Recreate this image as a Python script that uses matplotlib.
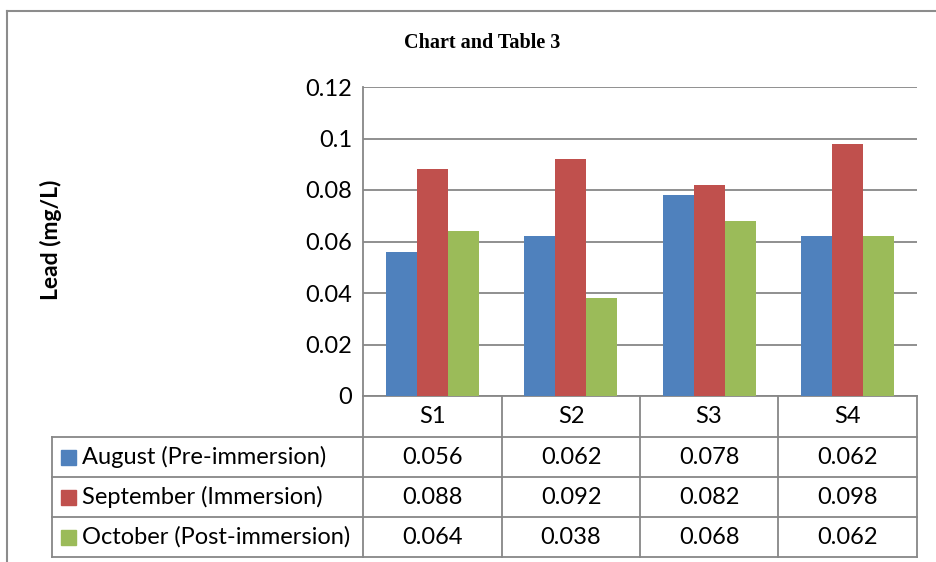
import matplotlib
matplotlib.use("Agg")
import matplotlib.pyplot as plt
import numpy as np
from matplotlib.lines import Line2D
from matplotlib.patches import Rectangle

# Lead concentration per sampling site, three sampling months
SITES = ["S1", "S2", "S3", "S4"]
SERIES = ["August (Pre-immersion)", "September (Immersion)", "October (Post-immersion)"]
AUGUST = [0.056, 0.062, 0.078, 0.062]
SEPTEMBER = [0.088, 0.092, 0.082, 0.098]
OCTOBER = [0.064, 0.038, 0.068, 0.062]
Y_TICKS = [0, 0.02, 0.04, 0.06, 0.08, 0.1, 0.12]
Y_TICK_LABELS = ["0", "0.02", "0.04", "0.06", "0.08", "0.1", "0.12"]

COLORS = ["#4f81bd", "#c0504d", "#9bbb59"]
GRID_C = "#878787"
FRAME_C = "#8c8c8c"
FONT = "Lato"
FS = 17

W, H = 936, 562


def fx(x):
    return x / W


def fy(y):
    return 1 - y / H


def hline(fig, y, x0, x1, color=GRID_C, lw=1.3):
    fig.add_artist(Line2D([fx(x0), fx(x1)], [fy(y), fy(y)], color=color, lw=lw,
                          transform=fig.transFigure))


def vline(fig, x, y0, y1, color=GRID_C, lw=1.3):
    fig.add_artist(Line2D([fx(x), fx(x)], [fy(y0), fy(y1)], color=color, lw=lw,
                          transform=fig.transFigure))


fig = plt.figure(figsize=(W / 100, H / 100), dpi=100, facecolor="white")

# outer chart frame (runs off the right and bottom edges)
vline(fig, 7, 11, H + 5, color=FRAME_C, lw=1.5)
hline(fig, 11, 7, W + 5, color=FRAME_C, lw=1.5)

fig.text(fx(482), fy(43), "Chart and Table 3", ha="center", va="center",
         fontsize=14.5, fontweight="bold", family="Liberation Serif")

# plot area
left, right, top, bottom = 363, 917, 87, 396
ax = fig.add_axes([fx(left), fy(bottom), fx(right - left), (bottom - top) / H])
values = [AUGUST, SEPTEMBER, OCTOBER]
x = np.arange(len(SITES))
bw = 0.224
for i, (vals, c) in enumerate(zip(values, COLORS)):
    ax.bar(x + (i - 1) * bw, vals, width=bw, color=c, edgecolor="none",
           label=SERIES[i], zorder=3)
ax.set_xlim(-0.5, len(SITES) - 0.5)
ax.set_ylim(0, 0.12)
ax.set_yticks(Y_TICKS)
ax.set_yticklabels(Y_TICK_LABELS, fontsize=FS, family=FONT)
ax.set_xticks([])
ax.tick_params(axis="y", length=0, pad=8)
ax.yaxis.grid(True, color=GRID_C, lw=1.3, zorder=0)
ax.set_axisbelow(True)
for s in ("top", "right"):
    ax.spines[s].set_visible(False)
for s in ("left", "bottom"):
    ax.spines[s].set_color(GRID_C)
    ax.spines[s].set_linewidth(1.3)

fig.text(fx(51), fy(240), "Lead (mg/L)", rotation=90, ha="center", va="center",
         fontsize=16.5, fontweight="bold", family=FONT)

# data table under the plot
col_x = [363, 502, 640, 778, 917]
row_y = [396, 437, 477, 517, 557]
tbl_left = 52
for cx in col_x:
    vline(fig, cx, row_y[0], row_y[-1])
vline(fig, tbl_left, row_y[1], row_y[-1])
for ry in row_y[1:]:
    hline(fig, ry, tbl_left, col_x[-1])

for j, site in enumerate(SITES):
    cx = (col_x[j] + col_x[j + 1]) / 2
    fig.text(fx(cx), fy((row_y[0] + row_y[1]) / 2), site, ha="center", va="center",
             fontsize=FS, family=FONT)

for i, (name, vals, c) in enumerate(zip(SERIES, values, COLORS)):
    cy = (row_y[i + 1] + row_y[i + 2]) / 2
    fig.add_artist(Rectangle((fx(61), fy(cy + 7.5)), 15 / W, 15 / H, color=c,
                             transform=fig.transFigure))
    fig.text(fx(82), fy(cy), name, ha="left", va="center", fontsize=FS, family=FONT)
    for j, v in enumerate(vals):
        cx = (col_x[j] + col_x[j + 1]) / 2
        fig.text(fx(cx), fy(cy), f"{v:.3f}", ha="center", va="center",
                 fontsize=FS, family=FONT)

fig.savefig("out.png", dpi=100, facecolor="white")
